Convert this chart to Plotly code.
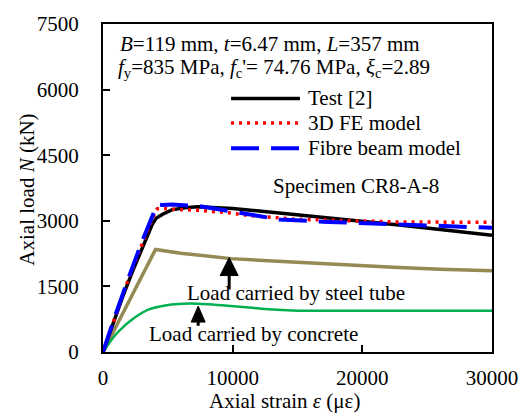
import plotly.graph_objects as go

# ---- data ----
strain_test = [0, 760, 1500, 2270, 3000, 3800, 4100, 4600, 5300, 6300, 7300, 10000, 13600, 17000, 20000, 23000, 26000, 30000]
load_test = [0, 640, 1250, 1840, 2380, 2920, 3060, 3150, 3250, 3300, 3320, 3280, 3180, 3080, 3000, 2900, 2800, 2670]

strain_fe = [0, 890, 1890, 2600, 3280, 3800, 4170, 4700, 5800, 7300, 9850, 11100, 14900, 18700, 22500, 26000, 30000]
load_fe = [0, 760, 1610, 2150, 2660, 3050, 3270, 3280, 3260, 3240, 3180, 3125, 3035, 3000, 2975, 2970, 2965]

strain_fibre = [0, 500, 1000, 2000, 3000, 4170, 4600, 5300, 7300, 9850, 13600, 17400, 20000, 23700, 30000]
load_fibre = [0, 460, 880, 1720, 2520, 3370, 3360, 3370, 3340, 3220, 3030, 2975, 2950, 2900, 2840]

strain_steel = [0, 4050, 6000, 8000, 9870, 12000, 14400, 18000, 22400, 26000, 30000]
load_steel = [0, 2345, 2260, 2190, 2135, 2100, 2060, 2000, 1940, 1895, 1860]

strain_conc = [0, 260, 600, 1260, 2270, 3540, 4800, 5800, 7300, 9600, 11500, 13400, 15000, 20000, 30000]
load_conc = [0, 110, 260, 490, 750, 975, 1065, 1100, 1105, 1060, 1010, 965, 945, 945, 945]

x_ticks = [0, 10000, 20000, 30000]
y_ticks = [0, 1500, 3000, 4500, 6000, 7500]

legend_names = ["Test [2]", "3D FE model", "Fibre beam model"]

FONT = "Liberation Serif"
TXT = dict(family=FONT, size=21, color="black")
C_TEST = "#000000"
C_FE = "#FF0000"
C_FIB = "#0000FF"
C_STEEL = "#948A54"
C_CONC = "#00B050"

fig = go.Figure()
fig.add_trace(go.Scatter(x=strain_steel, y=load_steel, mode="lines",
                         line=dict(color=C_STEEL, width=3.5), showlegend=False))
fig.add_trace(go.Scatter(x=strain_conc, y=load_conc, mode="lines",
                         line=dict(color=C_CONC, width=2.5, shape="spline", smoothing=0.6), showlegend=False))
fig.add_trace(go.Scatter(x=strain_test, y=load_test, mode="lines",
                         line=dict(color=C_TEST, width=3.5), showlegend=False))
fig.add_trace(go.Scatter(x=strain_fe, y=load_fe, mode="lines",
                         line=dict(color=C_FE, width=3.5, dash="3px,5px"), showlegend=False))
fig.add_trace(go.Scatter(x=strain_fibre, y=load_fibre, mode="lines",
                         line=dict(color=C_FIB, width=4, dash="28px,12px"), showlegend=False))

# plot area in pixels
L, R, T, B = 103, 498, 17, 352
W, H = 530, 414
def px(x):
    return (x - L) / (R - L)
def py(y):
    return (B - y) / (B - T)

shapes = []
annotations = []

# manual legend
leg_styles = [dict(color=C_TEST, width=3.5),
              dict(color=C_FE, width=3.5, dash="3px,5px"),
              dict(color=C_FIB, width=4, dash="28px,12px")]
leg_y = [93, 118, 144]
for name, st, yy in zip(legend_names, leg_styles, leg_y):
    shapes.append(dict(type="line", xref="paper", yref="paper",
                       x0=px(233), x1=px(303), y0=py(yy), y1=py(yy), line=st))
    annotations.append(dict(xref="paper", yref="paper", x=px(309), y=py(yy),
                            text=name, showarrow=False, xanchor="left", yanchor="middle",
                            font=TXT))

# arrows: shaft (data coords) + triangular head (pixel offsets from tip)
arrows = [(9730, 2160, 1430, 9, 18), (7340, 1050, 600, 7, 16)]
for ax_, tip, tail, hw, hh in arrows:
    shapes.append(dict(type="line", xref="x", yref="y", x0=ax_, x1=ax_, y0=tail,
                       y1=tip - 12 / 44.6 * 1000, line=dict(color="black", width=3)))
    shapes.append(dict(type="path", xref="x", yref="y", xsizemode="pixel", ysizemode="pixel",
                       xanchor=ax_, yanchor=tip,
                       path=f"M0,0 L{-hw},{-hh} L{hw},{-hh} Z",
                       fillcolor="black", line=dict(color="black", width=1)))

annotations += [
    dict(xref="paper", yref="paper", x=px(118), y=py(37), xanchor="left", yanchor="middle",
         text="<i>B</i>=119 mm, <i>t</i>=6.47 mm, <i>L</i>=357 mm", showarrow=False, font=TXT),
    dict(xref="paper", yref="paper", x=px(116), y=py(62), xanchor="left", yanchor="middle",
         text="<i>f</i><sub>y</sub>=835 MPa, <i>f</i><sub>c</sub>'= 74.76 MPa, <i>ξ</i><sub>c</sub>=2.89",
         showarrow=False, font=TXT),
    dict(xref="paper", yref="paper", x=px(274), y=py(182), xanchor="left", yanchor="middle",
         text="Specimen CR8-A-8", showarrow=False, font=TXT),
    dict(xref="x", yref="y", x=14900, y=1340, xanchor="center", yanchor="middle",
         text="Load carried by steel tube", showarrow=False, font=TXT),
    dict(xref="x", yref="y", x=11640, y=420, xanchor="center", yanchor="middle",
         text="Load carried by concrete", showarrow=False, font=TXT),
    # axis titles
    dict(xref="paper", yref="paper", x=px(287), y=py(402), xanchor="center", yanchor="middle",
         text="Axial strain <i>ε</i> (με)", showarrow=False, font=TXT),
    dict(xref="paper", yref="paper", x=px(26), y=py(186), xanchor="center", yanchor="middle",
         text="Axial load <i>N</i> (kN)", showarrow=False, textangle=-90, font=TXT),
]

axis_common = dict(showgrid=False, zeroline=False, showline=True, linecolor="black",
                   linewidth=2, mirror=True, ticks="inside", ticklen=7, tickwidth=2,
                   tickcolor="black", tickfont=TXT)

fig.update_layout(
    width=W, height=H,
    margin=dict(l=L, r=W - R, t=T, b=H - B),
    paper_bgcolor="white", plot_bgcolor="white",
    showlegend=False,
    font=TXT,
    xaxis=dict(range=[0, 30000], tickvals=x_ticks, ticktext=[str(v) for v in x_ticks],
               ticklabelstandoff=6, **axis_common),
    yaxis=dict(range=[0, 7500], tickvals=y_ticks, ticktext=[str(v) for v in y_ticks],
               ticklabelstandoff=18, **axis_common),
    shapes=shapes,
    annotations=annotations,
)

fig.write_html("out.html")
